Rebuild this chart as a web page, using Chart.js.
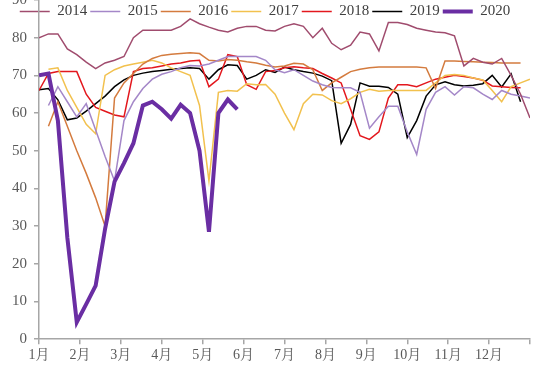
<!DOCTYPE html>
<html>
<head>
<meta charset="utf-8">
<script src="https://cdn.jsdelivr.net/npm/chart.js@4"></script>
<style>
body { margin: 0; background: #fff; }
.wrap { width: 550px; height: 371px; overflow: hidden; position: relative; }
.wrap canvas { position: absolute; left: 0; top: -16px; }
</style>
</head>
<body>
<div class="wrap"><canvas id="chart" width="550" height="387"></canvas></div>
<script>
const months = ['1月', '2月', '3月', '4月', '5月', '6月', '7月', '8月', '9月', '10月', '11月', '12月'];
const years = ['2014', '2015', '2016', '2017', '2018', '2019', '2020'];

// weekly values, week 0..52
const y2014 = [80, 81, 81, 77, 75.5, 73.5, 71.8, 73.3, 74, 75,
  80, 82, 82, 82, 82, 83, 85, 83.7, 82.8, 82,
  81.5, 82.5, 83, 83, 82, 81.8, 83, 83.7, 83, 80,
  82.5, 78.5, 76.8, 78, 81.5, 81, 76.5, 84, 84, 83.5,
  82.5, 82, 81.5, 81.3, 80.5, 72.5, 74.5, 73.5, 73, 74.5,
  70, 65, 58.7];
const y2015 = [null, 62, 67, 63, 59, 62.5, 55.5, 48.5, 42, 58,
  63, 66.5, 69, 70.3, 71, 72, 72.6, 72.5, 73, 74,
  75, 75, 75, 75, 74, 71.5, 70.7, 71.5, 70, 68.5,
  67.5, 66.8, 66.7, 66.7, 65.5, 56, 59, 61.8, 61.8, 55,
  49, 61, 65.5, 67, 64.8, 67, 66.7, 65, 63.6, 66,
  65, 64.5, 64];
const y2016 = [null, 56.5, 63, 56.5, 50, 44, 37.5, 30, 64, 68,
  70.5, 73, 74.5, 75.3, 75.6, 75.8, 76, 75.8, 74, 73.8,
  74.2, 74, 73.6, 73.3, 72.7, 72.2, 72.5, 73.2, 73, 71.5,
  66, 68, 69.5, 71, 71.6, 72, 72.2, 72.2, 72.2, 72.2,
  72.2, 72, 66.5, 73.8, 73.8, 73.7, 73.6, 73.5, 73.4, 73.3,
  73.3, 73.3, null];
const y2017 = [null, 71.6, 72, 66, 61.5, 57, 54.5, 70, 71.5, 72.5,
  73, 73.5, 74, 73.3, 72, 71, 70, 62, 42, 65.5,
  66, 65.8, 67.8, 67.5, 67.6, 65, 60, 55.6, 62.5, 65,
  64.8, 63.3, 62.5, 63.8, 65.5, 66.3, 65.8, 66, 66, 66,
  66, 66, 68, 70, 70.2, 70, 69.3, 68.8, 66, 63,
  67, 68, 69];
const y2018 = [66, 70.5, 71, 71, 71, 65, 61.5, 60.5, 59.5, 59,
  71, 71.8, 72, 72.5, 73, 73.3, 73.8, 74, 67, 69,
  75.5, 75, 67.5, 66.3, 71, 71.3, 72, 72.3, 72, 71.8,
  70.5, 69.3, 68, 61, 54, 53, 55, 64, 67.5, 67.5,
  67, 68, 69, 69.5, 70, 69.7, 69.3, 68.7, 67.2, 67,
  66.8, 66.7, null];
const y2019 = [66.2, 66.5, 63.5, 58.2, 58.7, 60.5, 62.5, 64.5, 67, 68.8,
  70, 70.6, 71, 71.3, 71.6, 71.8, 72, 71.8, 69, 71.5,
  72.8, 72.6, 69, 70, 71.5, 70.8, 72.2, 71.5, 71, 70.6,
  69.8, 68.6, 52, 57, 68, 67.1, 67.1, 66.8, 65, 53.5,
  58, 64.5, 67.5, 68.3, 67.5, 67.2, 67.4, 67.8, 70, 66.9,
  70.4, 63, null];
const y2020 = [70, 70.5, 58, 27, 4.5, 9.3, 14.2, 29.3, 41.8, 46.7,
  52, 62, 63, 61, 58.5, 62.2, 60, 50, 28.5, 60,
  63.6, 61];

const series = [y2014, y2015, y2016, y2017, y2018, y2019, y2020];
const colors = ['#a04c6e', '#a487c8', '#d47b3e', '#f2c14e', '#e3171d', '#000000', '#6a2ea3'];
const widths = [1.5, 1.5, 1.5, 1.5, 1.5, 1.5, 4];

// week index -> month position on the axis
const toPoints = (vals) => vals.map((v, i) => ({ x: 1 + i * 12 / 52, y: v }));

const font = "'Liberation Serif', 'Noto Serif CJK SC', 'Noto Sans CJK SC', serif";
const axisColor = '#a6a6a6';

// let the legend sit over the top of the plot instead of taking room above it
const overlayLegend = {
  id: 'overlayLegend',
  beforeLayout(chart) {
    const lg = chart.legend;
    if (lg && !lg._overlay) {
      const fit = lg.fit;
      lg.fit = function () {
        fit.call(this);
        this._realHeight = this.height;
        this.height = 0;
      };
      lg._overlay = true;
    }
  },
  afterLayout(chart) {
    const lg = chart.legend;
    if (lg) {
      lg.top = chart.chartArea.top + 1;
      lg.height = lg._realHeight;
      lg.bottom = lg.top + lg._realHeight;
    }
  },
};

new Chart(document.getElementById('chart'), {
  type: 'line',
  data: {
    datasets: years.map((yr, k) => ({
      label: yr,
      data: toPoints(series[k]),
      borderColor: colors[k],
      backgroundColor: colors[k],
      borderWidth: widths[k],
      pointRadius: 0,
      pointStyle: 'line',
      tension: 0,
      order: k === 6 ? -1 : k,
    })),
  },
  options: {
    responsive: false,
    animation: false,
    layout: { padding: { left: 0, right: 20, top: 0, bottom: 4 } },
    plugins: {
      tooltip: { enabled: false },
      legend: {
        position: 'top',
        labels: {
          usePointStyle: true,
          pointStyleWidth: 30,
          padding: 3,
          color: '#404040',
          font: { family: font, size: 15 },
          sort: (a, b) => a.datasetIndex - b.datasetIndex,
        },
      },
    },
    scales: {
      x: {
        type: 'linear',
        min: 1,
        max: 13,
        ticks: {
          stepSize: 1,
          autoSkip: false,
          maxRotation: 0,
          padding: 3,
          color: '#595959',
          font: { family: font, size: 14 },
          callback: (v) => months[v - 1] || '',
        },
        grid: { drawOnChartArea: false, tickLength: 5, color: axisColor, lineWidth: 1.5 },
        border: { color: axisColor, width: 1.5 },
      },
      y: {
        min: 0,
        max: 90,
        ticks: {
          stepSize: 10,
          padding: 7,
          color: '#595959',
          font: { family: font, size: 15 },
        },
        grid: { drawOnChartArea: false, tickLength: 5, color: axisColor, lineWidth: 1.5 },
        border: { color: axisColor, width: 1.5 },
        afterFit: (scale) => { scale.width = 39; },
      },
    },
  },
  plugins: [overlayLegend],
});
</script>
</body>
</html>
